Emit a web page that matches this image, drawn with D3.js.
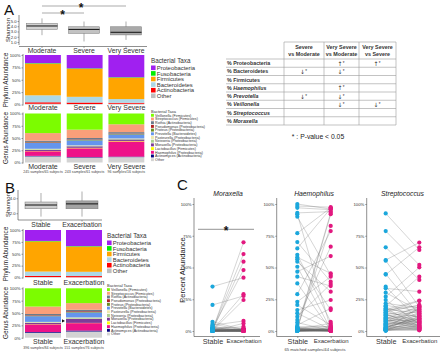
<!DOCTYPE html>
<html><head><meta charset="utf-8">
<script src="https://cdn.jsdelivr.net/npm/d3@7"></script>
<style>body{margin:0;background:#fff}svg{display:block;font-family:"Liberation Sans",Arial,sans-serif}</style>
</head><body><svg id="c" width="440" height="352"></svg>
<script>
// ---------------- DATA ----------------
const groupsA = ["Moderate", "Severe", "Very Severe"];
const samplesA = ["245 samples/65 subjects", "243 samples/61 subjects", "96 samples/16 subjects"];
const shannonMinA = [2.3, 1.1, 1.4];
const shannonQ1A  = [3.4, 2.65, 2.35];
const shannonMedA = [4.05, 3.4, 2.85];
const shannonQ3A  = [4.55, 3.9, 3.9];
const shannonMaxA = [5.5, 4.9, 4.9];
const shannonTicksA = [1, 2, 3, 4, 5];

const groupsB = ["Stable", "Exacerbation"];
const samplesB = ["396 samples/84 subjects", "151 samples/76 subjects"];
const shannonMinB = [1.55, 1.55];
const shannonQ1B  = [2.6, 2.6];
const shannonMedB = [3.1, 3.25];
const shannonQ3B  = [3.5, 3.65];
const shannonMaxB = [4.7, 4.9];
const shannonTicksB = [2, 4];

const phylumTaxa = ["Proteobacteria", "Fusobacteria", "Firmicutes", "Bacteroidetes", "Actinobacteria", "Other"];
const phylumColors = ["#a020f0", "#00ee00", "#ffa500", "#add8e6", "#ff0000", "#bebebe"];
const phylumModerate   = [16.5, 1, 64, 14, 3, 1.5];
const phylumSevere     = [27, 1, 56.5, 11.5, 3, 1];
const phylumVerySevere = [45, 1, 43, 7.5, 2, 1.5];
const phylumStable       = [23, 1, 63.5, 9, 2.5, 1];
const phylumExacerbation = [34, 1, 53, 9, 2.5, 0.5];

const genusTaxa = ["Veillonella (Firmicutes)", "Streptococcus (Firmicutes)", "Rothia (Actinobacteria)",
  "Pseudomonas (Proteobacteria)", "Proteus (Proteobacteria)", "Prevotella (Bacteroidetes)",
  "Pasteurella (Proteobacteria)", "Neisseria (Proteobacteria)", "Moraxella (Proteobacteria)",
  "Lactobacillus (Firmicutes)", "Haemophilus (Proteobacteria)", "Actinomyces (Actinobacteria)", "Other"];
const genusColors = ["#7cfc00", "#fa9f7a", "#6c7b8b", "#b22222", "#6b8e23", "#6495ed",
  "#eee8aa", "#a9d08e", "#7d3c98", "#ffff00", "#ee1289", "#000080", "#d3d3d3"];
const genusModerate   = [40, 15.5, 2.5, 1, 1, 12, 1, 1.5, 2, 0.5, 9.5, 1, 12.5];
const genusSevere     = [33, 17, 3, 1, 1, 10, 1, 1, 3, 1, 18, 1, 10];
const genusVerySevere = [22, 16, 3, 1, 1, 8, 1, 1, 3, 1, 31, 1, 11];
const genusStable       = [37, 15, 2.5, 1, 1, 11.5, 1, 1, 2.5, 0.5, 15.5, 1.5, 10];
const genusExacerbation = [30, 13.5, 3, 1.5, 1, 10, 1.5, 1.5, 8, 0.5, 15, 2, 12.5];

const tableRows = ["Proteobacteria", "Bacteroidetes", "Firmicutes", "Haemophilus", "Prevotella", "Veillonella", "Streptococcus", "Moraxella"];
const tableRowItalic = [false, false, false, true, true, true, true, true];
const tableCols = [["Severe", "vs Moderate"], ["Very Severe", "vs Moderate"], ["Very Severe", "vs Severe"]];
const tableSevVsMod = ["", "↓", "", "", "↓", "", "", ""];
const tableVSVsMod  = ["↑", "↓", "", "↑", "↓", "↓", "", ""];
const tableVSVsSev  = ["↑", "", "", "", "", "↓", "", ""];

const pairedGroups = ["Stable", "Exacerbation"];
const pctTicks = [0, 25, 50, 75, 100];
const moraxellaStable = [35.0, 20.5, 7.3, 0.5, 1.2, 0.3, 2.1, 0.8, 0.2, 4.5, 0.1, 1.6, 0.4, 3.0, 0.0, 0.6, 0.2, 5.5, 0.9, 0.1,
  2.6, 0.0, 0.3, 1.1, 0.7, 0.0, 0.2, 1.9, 0.4, 0.1, 3.6, 0.0, 0.5, 0.8, 0.2, 1.4, 0.0, 0.3, 0.1, 2.3,
  0.6, 0.0, 0.2, 1.0, 0.4, 0.0, 0.1, 0.7, 0.3, 0.0, 1.3, 0.2, 0.5, 0.0, 0.1, 0.9, 0.3, 0.0, 0.2, 0.6,
  0.1, 0.0, 0.4, 0.2, 0.0];
const moraxellaExac = [42.0, 27.6, 1.0, 69.8, 60.6, 54.6, 48.0, 29.0, 24.4, 7.9, 6.0, 3.4, 0.8, 2.0, 0.3, 1.5, 0.1, 0.6, 0.2, 0.9,
  0.4, 0.0, 1.2, 0.3, 0.1, 0.5, 0.0, 0.7, 0.2, 1.8, 0.4, 0.1, 0.0, 0.3, 0.6, 0.2, 1.1, 0.0, 0.4, 0.1,
  0.8, 0.3, 0.0, 0.5, 0.2, 1.4, 0.1, 0.0, 0.6, 0.3, 0.2, 0.9, 0.0, 0.4, 0.1, 0.2, 0.7, 0.0, 0.3, 0.1,
  0.5, 0.0, 0.2, 0.4, 0.1];
const haemophilusStable = [100, 98.4, 97, 93, 92, 90, 77, 70, 65, 60, 58, 56.4, 54.6, 50.6, 46.7, 42.8, 37.5, 29, 23, 20.5,
  16.5, 14, 11.3, 8.7, 6.6, 4.7, 3.4, 2.8, 2.5, 2.1, 1.9, 1.7, 1.5, 1.3, 1.2, 1.0, 0.9, 0.8, 0.7, 0.6,
  0.5, 0.5, 0.4, 0.3, 0.3, 0.2, 0.2, 0.1, 0.1, 0.1, 0.0, 0.0, 0.0, 2.3, 1.6, 1.1, 0.8, 0.4, 0.2, 0.0,
  3.0, 1.4, 0.6, 0.1, 0.0];
const haemophilusExac = [96, 97.5, 95.5, 94, 2.0, 44, 97, 38.8, 96.5, 7.3, 45.4, 16.5, 31, 1.5, 59, 35.4, 0.8, 78.7, 42.8, 4.7,
  24.4, 1.2, 37, 66.4, 0.5, 17.8, 3.4, 93, 0.9, 82.7, 0.3, 6.0, 1.1, 0.2, 92, 0.7, 0.1, 2.4, 0.4, 0.0,
  1.8, 0.6, 0.2, 1.3, 0.0, 0.5, 0.1, 2.8, 0.3, 0.0, 1.0, 0.2, 0.6, 0.1, 3.9, 0.4, 0.0, 1.6, 0.2, 0.8,
  0.1, 0.0, 0.3, 1.4, 0.5];
const streptococcusStable = [92.6, 78.7, 65.9, 55.9, 55.4, 44.9, 44.4, 34.9, 33.6, 30.2, 27.0, 24.4, 21.8, 19.5, 18.8, 18.0, 17.3, 16.4, 15.9, 15.1,
  14.2, 13.8, 13.0, 12.3, 11.9, 11.0, 10.7, 9.8, 9.4, 8.6, 8.1, 7.5, 7.0, 6.4, 6.1, 5.6, 5.2, 4.7, 4.3, 3.9,
  3.4, 3.1, 2.8, 2.4, 2.2, 1.9, 1.6, 1.4, 1.1, 0.9, 0.7, 0.5, 0.4, 0.3, 0.2, 12.6, 16.9, 20.3, 10.2, 7.8,
  2.6, 5.0, 14.7, 9.0, 1.2];
const streptococcusExac = [63.8, 52.0, 40.2, 69.6, 19.0, 12.5, 65.9, 8.0, 31.0, 16.0, 50.1, 5.5, 18.2, 42.8, 10.5, 3.5, 14.0, 20.0, 7.0, 23.6,
  11.2, 2.5, 17.5, 9.0, 15.2, 4.8, 6.2, 13.1, 19.4, 1.5, 8.8, 12.0, 5.0, 16.8, 3.0, 10.0, 7.6, 1.0, 14.6, 6.8,
  2.0, 9.5, 4.2, 11.6, 0.8, 5.8, 18.7, 3.2, 7.2, 1.2, 13.7, 2.6, 0.5, 4.5, 9.9, 6.5, 24.0, 15.6, 2.2, 17.0,
  11.0, 8.3, 20.5, 3.8, 1.8];

// ---------------- DRAWING ----------------
const svg = d3.select("#c");
const INK = "#222";

function styleAxis(g, fs) {
  g.attr("font-family", null).attr("font-size", null);
  g.selectAll("text").attr("font-size", fs).attr("fill", "#333");
  g.selectAll(".tick line").attr("stroke", "#444").attr("stroke-width", 0.5);
  g.select(".domain").attr("stroke", "#444").attr("stroke-width", 0.6);
}
function text(x, y, s, o = {}) {
  const t = svg.append("text").attr("x", x).attr("y", y).text(s)
    .attr("font-size", o.fs || 6).attr("fill", o.fill || INK)
    .attr("text-anchor", o.anchor || "start");
  if (o.italic) t.attr("font-style", "italic");
  if (o.bold) t.attr("font-weight", "bold");
  if (o.rot) t.attr("transform", `rotate(-90,${x},${y})`);
  if (o.family) t.attr("font-family", o.family);
  return t;
}
function yLabel(x, cy, s, fs) { text(x, cy, s, { fs, anchor: "middle", rot: true }); }

function boxplot(groups, mins, q1s, meds, q3s, maxs, fills, xs, ys, ticks, axisX, axisY, axisEnd, labFs) {
  const g = svg.append("g");
  const yr = ys.range();
  const ay = g.append("g").attr("transform", `translate(${axisX},0)`)
    .call(d3.axisLeft(ys).tickValues(ticks).tickSize(1.5).tickPadding(1).tickSizeOuter(0));
  ay.select(".domain").attr("d", `M0,${yr[1]}V${yr[0]}`);
  styleAxis(ay, 4.2);
  const ax = g.append("g").attr("transform", `translate(0,${axisY})`)
    .call(d3.axisBottom(xs).tickSize(1.5).tickPadding(0.6).tickSizeOuter(0));
  ax.select(".domain").attr("d", `M${axisX},0H${axisEnd}`);
  styleAxis(ax, labFs);
  groups.forEach((k, i) => {
    const cx = xs(k) + xs.bandwidth() / 2;
    g.append("line").attr("x1", cx).attr("x2", cx).attr("y1", ys(maxs[i])).attr("y2", ys(mins[i]))
      .attr("stroke", "#777").attr("stroke-width", 0.6);
    g.append("rect").attr("x", xs(k)).attr("width", xs.bandwidth())
      .attr("y", ys(q3s[i])).attr("height", ys(q1s[i]) - ys(q3s[i]))
      .attr("fill", fills[i]).attr("stroke", "#777").attr("stroke-width", 0.5);
    g.append("line").attr("x1", xs(k)).attr("x2", xs(k) + xs.bandwidth()).attr("y1", ys(meds[i])).attr("y2", ys(meds[i]))
      .attr("stroke", "#111").attr("stroke-width", 1);
  });
}

function stackedBars(groups, taxa, rows, colors, xs, ys, axisX, labBase, labFs, subs, subBase) {
  const g = svg.append("g");
  const data = groups.map((k, i) => { const o = { group: k }; taxa.forEach((t, j) => o[t] = rows[i][j]); return o; });
  const keys = taxa.slice().reverse();
  const color = d3.scaleOrdinal().domain(taxa).range(colors);
  const series = d3.stack().keys(keys)(data);
  g.selectAll("g.s").data(series).join("g").attr("fill", d => color(d.key))
    .selectAll("rect").data(d => d).join("rect")
    .attr("x", d => xs(d.data.group)).attr("width", xs.bandwidth())
    .attr("y", d => ys(d[1])).attr("height", d => ys(d[0]) - ys(d[1]));
  const yr = ys.range();
  const ay = g.append("g").attr("transform", `translate(${axisX},0)`)
    .call(d3.axisLeft(ys).tickValues([0, 25, 50, 75, 100]).tickFormat(d => d + "%").tickSize(1.5).tickPadding(1).tickSizeOuter(0));
  ay.select(".domain").attr("d", `M0,${yr[1] - 1}V${yr[0] + 1}`);
  styleAxis(ay, 4.2);
  groups.forEach((k, i) => {
    const cx = xs(k) + xs.bandwidth() / 2;
    text(cx, labBase, k, { fs: labFs, anchor: "middle", fill: "#333" });
    if (subs) text(cx, subBase, subs[i], { fs: 3.6, anchor: "middle", fill: "#444" });
  });
}

function legend(x, titleY, firstY, step, taxa, colors, sq, fsTitle, fs) {
  text(x, titleY, "Bacterial Taxa", { fs: fsTitle, fill: "#333" });
  taxa.forEach((t, i) => {
    const cy = firstY + i * step;
    svg.append("rect").attr("x", x).attr("y", cy - sq / 2).attr("width", sq).attr("height", sq).attr("fill", colors[i]);
    text(x + sq + 1.2, cy + fs * 0.36, t, { fs, fill: "#333" });
  });
}

// ---- Panel labels
text(4, 15, "A", { fs: 15, fill: "#111" });
text(5, 193, "B", { fs: 15, fill: "#111" });
text(177, 190, "C", { fs: 15, fill: "#111" });

// ---- A: Shannon
const xShA = d3.scaleBand().domain(groupsA).range([26.5, 141.5]).paddingInner(0.262);
const yShA = d3.scaleLinear().domain([0.43, 6.14]).range([45, 15]);
boxplot(groupsA, shannonMinA, shannonQ1A, shannonMedA, shannonQ3A, shannonMaxA, ["#d2d2d2", "#c2c2c2", "#a9a9a9"],
  xShA, yShA, shannonTicksA, 19, 46.5, 147, 6.8);
yLabel(10, 30, "Shannon", 6);
// significance
function sig(x1, x2, y, cx) {
  svg.append("line").attr("x1", x1).attr("x2", x2).attr("y1", y).attr("y2", y).attr("stroke", "#888").attr("stroke-width", 0.7);
  text(cx, y + 5.6, "*", { fs: 12, bold: true, anchor: "middle", fill: "#111" });
}
sig(xShA("Moderate") + xShA.bandwidth() / 2, xShA("Very Severe") + xShA.bandwidth() / 2, 6, 81);
sig(xShA("Moderate") + xShA.bandwidth() / 2, xShA("Severe") + xShA.bandwidth() / 2, 13, 62.5);

// ---- A: phylum
const xBarA = d3.scaleBand().domain(groupsA).range([25, 144.3]).paddingInner(0.14);
const yPA = d3.scaleLinear().domain([0, 100]).range([104.5, 55]);
stackedBars(groupsA, phylumTaxa, [phylumModerate, phylumSevere, phylumVerySevere], phylumColors, xBarA, yPA, 23, 110.2, 7);
yLabel(8, 80, "Phylum Abundance", 6.3);
legend(151, 62.6, 67.8, 5.6, phylumTaxa, phylumColors, 4.6, 6.3, 5.9);

// ---- A: genus
const yGA = d3.scaleLinear().domain([0, 100]).range([162.5, 113.5]);
stackedBars(groupsA, genusTaxa, [genusModerate, genusSevere, genusVerySevere], genusColors, xBarA, yGA, 23, 168.6, 7, samplesA, 173.3);
yLabel(8, 138, "Genus Abundance", 6.3);
legend(151, 112.5, 115.3, 3.7, genusTaxa, genusColors, 2.9, 4, 3.6);

// ---- A: table
const tX0 = 226, tTop = 42, tHeadBot = 59, tBot = 125;
const rowY = d3.scaleBand().domain(tableRows).range([tHeadBot, tBot]);
const colEdges = [284, 324, 359, 396];
const tg = svg.append("g").attr("stroke", "#9a9a9a").attr("stroke-width", 0.6);
tg.append("line").attr("x1", 284).attr("x2", 396).attr("y1", tTop).attr("y2", tTop);
colEdges.forEach(x => tg.append("line").attr("x1", x).attr("x2", x).attr("y1", tTop).attr("y2", tBot));
d3.range(tableRows.length + 1).forEach(i => {
  const y = tHeadBot + i * rowY.step();
  tg.append("line").attr("x1", tX0).attr("x2", 396).attr("y1", y).attr("y2", y);
});
tableCols.forEach((c, i) => {
  const cx = (colEdges[i] + colEdges[i + 1]) / 2;
  text(cx, 49, c[0], { fs: 5.4, bold: true, anchor: "middle", fill: "#333" });
  text(cx, 55.5, c[1], { fs: 5.4, bold: true, anchor: "middle", fill: "#333" });
});
tableRows.forEach((r, i) => {
  const cy = rowY(r) + rowY.bandwidth() / 2;
  const t = text(tX0 + 1, cy + 1.9, "% ", { fs: 5.3, bold: true, fill: "#333" });
  const ts = t.append("tspan").text(r);
  if (tableRowItalic[i]) ts.attr("font-style", "italic");
  [tableSevVsMod, tableVSVsMod, tableVSVsSev].forEach((col, j) => {
    if (!col[i]) return;
    const cx = (colEdges[j] + colEdges[j + 1]) / 2;
    text(cx - 1.5, cy + 2.4, col[i], { fs: 6, anchor: "middle", fill: "#333", family: "DejaVu Sans" });
    text(cx + 1.2, cy + 1.6, "*", { fs: 4.5, fill: "#333" });
  });
});
text(318, 139, "* : P-value < 0.05", { fs: 6.8, anchor: "middle", fill: "#222" });

// ---- B: Shannon
const xShB = d3.scaleBand().domain(groupsB).range([25, 98]).paddingInner(0.22);
const yShB = d3.scaleLinear().domain([1.1, 5.1]).range([220, 190]);
boxplot(groupsB, shannonMinB, shannonQ1B, shannonMedB, shannonQ3B, shannonMaxB, ["#cdcdcd", "#a3a3a3"],
  xShB, yShB, shannonTicksB, 18, 220, 102, 6.8);
yLabel(10, 205, "Shannon", 6);

// ---- B: phylum
const xBarB = d3.scaleBand().domain(groupsB).range([25, 102]).paddingInner(0.122);
const yPB = d3.scaleLinear().domain([0, 100]).range([277.5, 230]);
stackedBars(groupsB, phylumTaxa, [phylumStable, phylumExacerbation], phylumColors, xBarB, yPB, 23, 284.8, 7);
yLabel(8, 254, "Phylum Abundance", 6.3);
legend(107, 237.8, 242.8, 5.6, phylumTaxa, phylumColors, 4.6, 6.3, 5.9);

// ---- B: genus
const yGB = d3.scaleLinear().domain([0, 100]).range([337.7, 288.3]);
stackedBars(groupsB, genusTaxa, [genusStable, genusExacerbation], genusColors, xBarB, yGB, 23, 343.6, 7, samplesB, 348.6);
yLabel(8, 313, "Genus Abundance", 6.3);
legend(107, 286.6, 289.6, 3.7, genusTaxa, genusColors, 2.9, 4, 3.6);
// arrow marker pointing to Moraxella segment of exacerbation bar
{
  const mi = genusTaxa.indexOf("Moraxella (Proteobacteria)");
  const below = genusExacerbation.slice(mi + 1).reduce((a, b) => a + b, 0);
  const my = yGB(below + genusExacerbation[mi] / 2);
  const mx = xBarB("Exacerbation") - 1;
  svg.append("path").attr("d", `M${mx - 3},${my - 1.6}L${mx},${my}L${mx - 3},${my + 1.6}Z`).attr("fill", "#111");
}

// ---- C: paired plots
const yC = d3.scaleLinear().domain([0, 100]).range([331, 204]);
function paired(title, st, ex, axisX, xS, xE, xEnd) {
  const g = svg.append("g");
  const xs = d3.scalePoint().domain(pairedGroups).range([xS, xE]);
  const ay = g.append("g").attr("transform", `translate(${axisX},0)`)
    .call(d3.axisLeft(yC).tickValues(pctTicks).tickFormat(d => d + "%").tickSize(1.5).tickPadding(1).tickSizeOuter(0));
  ay.select(".domain").attr("d", "M0,198V336.5");
  styleAxis(ay, 4.2);
  const ax = g.append("g").attr("transform", "translate(0,336.5)")
    .call(d3.axisBottom(xs).tickSize(1.5).tickPadding(0.8).tickSizeOuter(0));
  ax.select(".domain").attr("d", `M${axisX},0H${xEnd}`);
  styleAxis(ax, 6);
  ax.selectAll("text").attr("font-size", d => d === "Stable" ? 7.2 : 6);
  st.forEach((v, i) => {
    g.append("line").attr("x1", xs("Stable")).attr("x2", xs("Exacerbation"))
      .attr("y1", yC(v)).attr("y2", yC(ex[i])).attr("stroke", "#666").attr("stroke-opacity", 0.55).attr("stroke-width", 0.5);
  });
  g.selectAll("circle.s").data(st).join("circle").attr("cx", xs("Stable")).attr("cy", d => yC(d)).attr("r", 2.1).attr("fill", "#1ba7dc");
  g.selectAll("circle.e").data(ex).join("circle").attr("cx", xs("Exacerbation")).attr("cy", d => yC(d)).attr("r", 2.1).attr("fill", "#e2187f");
  text((xS + xE) / 2, 195.5, title, { fs: 6.8, italic: true, anchor: "middle", fill: "#222" });
  return xs;
}
paired("Moraxella", moraxellaStable, moraxellaExac, 194, 212.5, 243.5, 260);
paired("Haemophilus", haemophilusStable, haemophilusExac, 276.7, 297.3, 330.7, 352);
paired("Streptococcus", streptococcusStable, streptococcusExac, 366.7, 385.7, 419.3, 440);
yLabel(185, 270, "Percent Abundance", 7.5);
svg.append("line").attr("x1", 198).attr("x2", 254).attr("y1", 229.3).attr("y2", 229.3).attr("stroke", "#666").attr("stroke-width", 0.7);
text(226, 234.5, "*", { fs: 12, bold: true, anchor: "middle", fill: "#111" });
text(315, 351, "65 matched samples/44 subjects", { fs: 4.2, anchor: "middle", fill: "#444" });
</script></body></html>
